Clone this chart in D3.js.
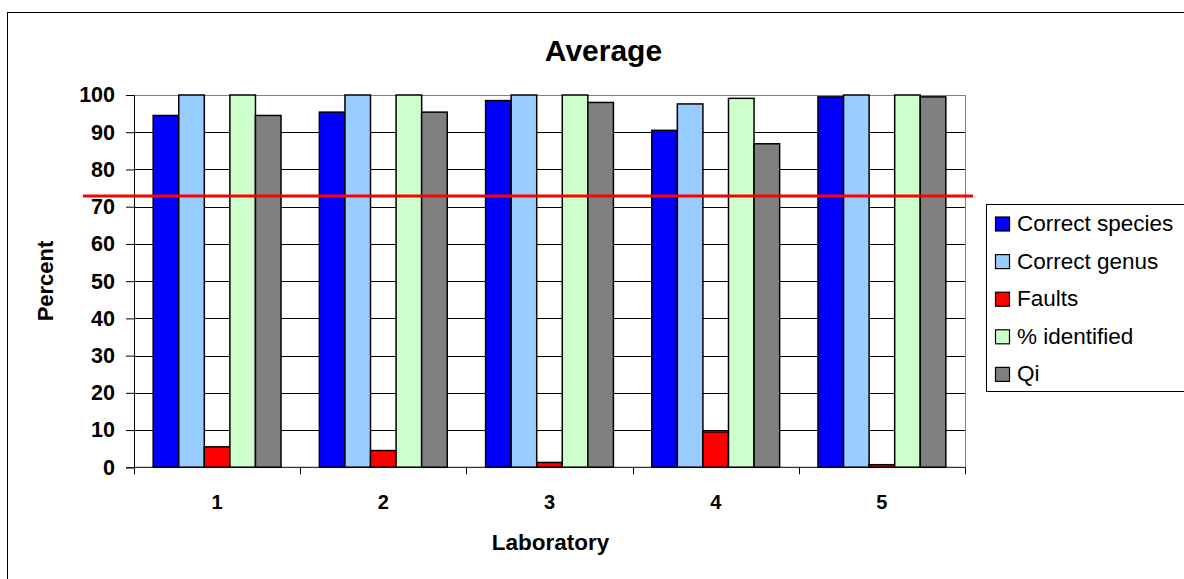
<!DOCTYPE html>
<html><head><meta charset="utf-8">
<script src="https://cdn.jsdelivr.net/npm/d3@7"></script>
<style>html,body{margin:0;padding:0;background:#fff;}svg{display:block;font-family:"Liberation Sans",Arial,sans-serif;}</style>
</head><body><svg id="c" width="1184" height="579"></svg>
<script>
const categories = ["1","2","3","4","5"];
const seriesNames = ["Correct species","Correct genus","Faults","% identified","Qi"];
const seriesColors = ["#0000ff","#99ccff","#ff0000","#ccffcc","#808080"];
const correctSpecies = [94.5, 95.4, 98.5, 90.5, 99.5];
const correctGenus = [100, 100, 100, 97.6, 100];
const faults = [5.5, 4.5, 1.3, 9.5, 0.7];
const identified = [100, 100, 100, 99.1, 100];
const qi = [94.5, 95.4, 98.0, 86.9, 99.5];
const yTicks = [0,10,20,30,40,50,60,70,80,90,100];
const thresholdValue = 72.9;

const seriesValues = [correctSpecies, correctGenus, faults, identified, qi];
const svg = d3.select("#c");
const L = 134, R = 965, T = 95, B = 467.3;
const FF = "Liberation Sans, Arial, sans-serif";

svg.append("rect").attr("x",7.5).attr("y",12.5).attr("width",1200).attr("height",600)
  .attr("fill","#fff").attr("stroke","#000").attr("stroke-width",1);

const x = d3.scaleBand().domain(categories).range([L,R]).paddingInner(0).paddingOuter(0);
const y = d3.scaleLinear().domain([0,100]).range([B,T]);

// gridlines
svg.append("g").selectAll("line").data(yTicks.filter(t=>t>0)).join("line")
  .attr("x1",L).attr("x2",R).attr("y1",d=>Math.round(y(d))+0.5).attr("y2",d=>Math.round(y(d))+0.5)
  .attr("stroke",d=>d===100?"#808080":"#000").attr("stroke-width",1);
svg.append("line").attr("x1",R+0.5).attr("x2",R+0.5).attr("y1",T).attr("y2",B).attr("stroke","#808080");

// bars
const bw = x.bandwidth()/6.5;
const x1 = d3.scaleBand().domain(d3.range(5)).range([0, bw*5]);
const groups = svg.append("g").selectAll("g").data(categories).join("g")
  .attr("transform",(d)=>`translate(${x(d)+bw*0.75},0)`);
groups.selectAll("rect").data((d,i)=>seriesValues.map((s,j)=>({j, v:s[i]}))).join("rect")
  .attr("x",d=>x1(d.j)).attr("width",x1.bandwidth())
  .attr("y",d=>y(d.v)).attr("height",d=>B-y(d.v))
  .attr("fill",d=>seriesColors[d.j]).attr("stroke","#000").attr("stroke-width",1.5);

// axes
const yAxis = d3.axisLeft(y).tickValues(yTicks).tickSize(8).tickPadding(11);
const gy = svg.append("g").attr("transform",`translate(${L},0)`).call(yAxis);
gy.selectAll("text").attr("font-size",21.5).attr("font-weight","bold").attr("fill","#000").attr("font-family",FF);
gy.select(".domain").attr("stroke","#000");

const xAxis = d3.axisBottom(x).tickSize(0).tickPadding(28);
const gx = svg.append("g").attr("transform",`translate(0,${B})`).call(xAxis);
gx.select(".domain").remove();
gx.selectAll("text").attr("font-size",20).attr("font-weight","bold").attr("fill","#000").attr("font-family",FF);
const bounds = categories.map(c=>x(c)).concat([R]);
svg.append("g").selectAll("line").data(bounds).join("line")
  .attr("x1",d=>Math.round(d)+0.5).attr("x2",d=>Math.round(d)+0.5).attr("y1",B).attr("y2",B+7).attr("stroke","#000");
svg.append("line").attr("x1",L).attr("x2",R).attr("y1",B).attr("y2",B).attr("stroke","#000").attr("stroke-width",1);

// threshold line
svg.append("line").attr("x1",83).attr("x2",973).attr("y1",y(thresholdValue)).attr("y2",y(thresholdValue))
  .attr("stroke","#ff0000").attr("stroke-width",3);

// titles
svg.append("text").attr("x",603.5).attr("y",61).attr("text-anchor","middle").attr("font-size",30).attr("font-weight","bold").text("Average");
svg.append("text").attr("transform","translate(53,281) rotate(-90)").attr("text-anchor","middle").attr("font-size",22).attr("font-weight","bold").text("Percent");
svg.append("text").attr("x",550.5).attr("y",550).attr("text-anchor","middle").attr("font-size",22.5).attr("font-weight","bold").text("Laboratory");

// legend
const lg = svg.append("g");
lg.append("rect").attr("x",986.5).attr("y",204.5).attr("width",220).attr("height",187).attr("fill","#fff").attr("stroke","#000");
const items = lg.selectAll("g").data(seriesNames).join("g").attr("transform",(d,i)=>`translate(0,${224+i*37.6})`);
items.append("rect").attr("x",995.5).attr("y",-7).attr("width",14).attr("height",14).attr("fill",(d,i)=>seriesColors[i]).attr("stroke","#000").attr("stroke-width",1.2);
items.append("text").attr("x",1017).attr("y",7).attr("font-size",22.5).text(d=>d);
</script></body></html>
